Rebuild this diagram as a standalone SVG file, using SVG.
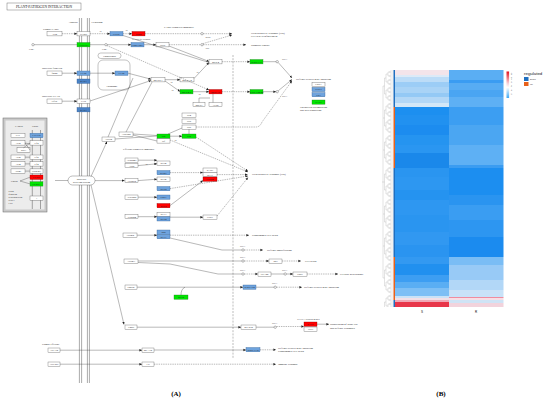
<svg xmlns="http://www.w3.org/2000/svg" width="550" height="403" viewBox="0 0 550 403">
<defs>
<style>
.n{fill:#fff;stroke:#555;stroke-width:0.35}
.bl{fill:#6ea3dd;stroke:#2e5f94;stroke-width:0.35}
.db{fill:#4a82c6;stroke:#2a5690;stroke-width:0.35}
.gr{fill:#00e400;stroke:#2a7a2a;stroke-width:0.35}
.rd{fill:#ff0000;stroke:#8a0000;stroke-width:0.35}
.t{font-family:"Liberation Serif",serif;font-size:2.6px;text-anchor:middle;fill:#222}
.l{font-family:"Liberation Serif",serif;font-size:2.8px;fill:#222}
.s{stroke:#333;stroke-width:0.35;fill:none}
.d{stroke:#333;stroke-width:0.35;fill:none;stroke-dasharray:1.4 0.9}
.c{fill:#fff;stroke:#333;stroke-width:0.35}
.m{stroke:#444;stroke-width:0.45}
.dg{stroke:#a0a0a0;stroke-width:0.3;fill:none}
</style>
<marker id="a" markerWidth="3" markerHeight="4" refX="2.6" refY="2" orient="auto" markerUnits="userSpaceOnUse"><path d="M0,0.8 L2.6,2 L0,3.2z" fill="#222"/></marker>
<pattern id="p2" x="0" y="70" width="4" height="2" patternUnits="userSpaceOnUse"><path d="M0,1H4" class="dg"/></pattern>
<pattern id="p4" x="0" y="70" width="4" height="4" patternUnits="userSpaceOnUse"><path d="M0,2H4" class="dg"/></pattern>
<pattern id="p8" x="0" y="70" width="4" height="8" patternUnits="userSpaceOnUse"><path d="M0,4H4" class="dg"/></pattern>
<pattern id="p16" x="0" y="70" width="4" height="16" patternUnits="userSpaceOnUse"><path d="M0,8H4" class="dg"/></pattern>
<pattern id="p32" x="0" y="70" width="4" height="32" patternUnits="userSpaceOnUse"><path d="M0,16H4" class="dg"/></pattern>
<linearGradient id="lg" x1="0" y1="0" x2="0" y2="1"><stop offset="0" stop-color="#e3121f"/><stop offset="0.45" stop-color="#f7d2da"/><stop offset="0.6" stop-color="#ffffff"/><stop offset="1" stop-color="#3fa9f5"/></linearGradient>
</defs>
<rect width="550" height="403" fill="#fff"/>

<!-- ============ PANEL A ============ -->
<g id="title"><rect x="7" y="3" width="74" height="7" fill="#fff" stroke="#555" stroke-width="0.4"/><text x="44" y="7.8" class="t" style="font-size:3.6px">PLANT-PATHOGEN INTERACTION</text></g>

<g id="membrane">
<line x1="79.4" y1="18" x2="79.4" y2="383" class="m"/><line x1="81.6" y1="18" x2="81.6" y2="383" class="m"/>
<line x1="87.4" y1="18" x2="87.4" y2="383" class="m"/><line x1="89.4" y1="18" x2="89.4" y2="383" class="m"/>
<text x="73" y="23" class="t">Apoplast</text><text x="97" y="23" class="t">Cytoplasm</text>
</g>
<line x1="233" y1="55" x2="233" y2="358" stroke="#555" stroke-width="0.4" stroke-dasharray="2 1.2"/>

<!-- grey PRR box -->
<g id="prrbox">
<rect x="3" y="118" width="44" height="94" fill="#c9c9c9" stroke="#666" stroke-width="0.5"/>
<rect x="5.5" y="120.5" width="39" height="89" fill="#ececec"/>
<line x1="32.3" y1="130" x2="32.3" y2="209" class="m"/><line x1="40.5" y1="130" x2="40.5" y2="209" class="m"/>
<text x="15" y="126.5" class="l" style="font-size:2.6px">PAMPs</text><text x="32" y="126.5" class="l" style="font-size:2.6px">PRRs</text>
<rect x="11" y="133.3" width="14" height="4.4" class="n"/><text x="18" y="136.4" class="t">EIX</text>
<rect x="30" y="133.3" width="13" height="4.4" class="bl"/><text x="36.5" y="136.4" class="t">LeEIX2</text>
<rect x="11" y="140.7" width="14" height="4.4" class="n"/><text x="18" y="143.8" class="t">Avr2</text>
<rect x="30" y="140.7" width="13" height="4.4" class="n"/><text x="36.5" y="143.8" class="t">Cf2</text>
<rect x="17" y="147.8" width="13" height="4.4" class="n"/><text x="23.5" y="150.9" class="t">Rcr3</text>
<path d="M25,143 L30,150 M25,143 L30,144 M23.5,147.8 L30,143" class="s"/>
<rect x="11" y="155" width="14" height="4.4" class="n"/><text x="18" y="158.1" class="t">Avr9</text>
<rect x="30" y="155" width="13" height="4.4" class="n"/><text x="36.5" y="158.1" class="t">Cf9</text>
<rect x="11" y="161.7" width="14" height="4.4" class="n"/><text x="18" y="164.8" class="t">Avr4</text>
<rect x="30" y="161.7" width="13" height="4.4" class="n"/><text x="36.5" y="164.8" class="t">Cf4</text>
<rect x="11" y="168.9" width="14" height="4.4" class="n"/><text x="18" y="172" class="t">Avr4E</text>
<rect x="30" y="168.9" width="13" height="4.4" class="n"/><text x="36.5" y="172" class="t">Hcr9-4E</text>
<path d="M25,157.2 H30 M25,163.9 H30 M25,171.1 H30" class="s"/>
<rect x="30" y="175" width="13" height="4.4" class="rd"/><text x="36.5" y="178.1" class="t">CEBiP</text>
<rect x="30" y="181.7" width="13" height="4.4" class="gr"/><text x="36.5" y="184.8" class="t">CERK1</text>
<text x="11" y="182" class="l" style="font-size:2.6px">Chitin</text>
<path d="M20,181 L30,177.2 M20,181 L30,183.9" class="s"/>
<text x="8.5" y="192" class="l" style="font-size:2.4px">Hep2</text>
<text x="8.5" y="195" class="l" style="font-size:2.4px">β-glucan</text>
<text x="8.5" y="198" class="l" style="font-size:2.4px">Peptidoglycan</text>
<text x="8.5" y="201" class="l" style="font-size:2.4px">Pep13</text>
<text x="8.5" y="204" class="l" style="font-size:2.4px">LPS</text>
<rect x="30" y="196" width="13" height="4.2" class="n"/><text x="36.5" y="199" class="t">?</text>
</g>

<!-- PTI top -->
<g id="fungal_pamp"><text x="43" y="29.5" class="l">Fungal PAMP</text><rect x="47" y="31.5" width="15" height="4.4" class="n"/><text x="54.5" y="34.6" class="t">Avr9</text></g>
<g id="n_cebip"><rect x="77" y="31.5" width="13" height="4.4" class="n"/><text x="83.5" y="34.6" class="t">CEBiP</text></g>
<g id="n_cdpk"><rect x="110" y="31.5" width="13" height="4.4" class="bl"/><text x="116.5" y="34.6" class="t">CDPK</text></g>
<g id="n_rboh"><rect x="132" y="31.5" width="13" height="4.4" class="rd"/><text x="138.5" y="34.6" class="t">Rboh</text></g>
<g id="n_cngc"><rect x="77" y="42.5" width="13" height="4.4" class="gr"/><text x="83.5" y="45.6" class="t">CNGCs</text></g>
<g id="n_cam"><rect x="131" y="42.5" width="13" height="4.4" class="bl"/><text x="137.5" y="45.6" class="t">CaM/CML</text></g>
<g id="n_nos"><rect x="156" y="42.5" width="13" height="4.4" class="n"/><text x="162.5" y="45.6" class="t">NOS</text></g>
<g id="n_flg22"><text x="42" y="68.5" class="l">Bacterial flagellin</text><rect x="47" y="71" width="15" height="4.4" class="n"/><text x="54.5" y="74.1" class="t">flg22</text></g>
<g id="n_fls2m"><rect x="77" y="71" width="13" height="4.4" class="bl"/><text x="83.5" y="74.1" class="t">FLS2</text></g>
<g id="n_bak1a"><rect x="77" y="79" width="13" height="4.4" class="db"/><text x="83.5" y="82.1" class="t">BAK1</text></g>
<g id="n_endo"><rect x="98" y="60" width="32" height="30" rx="5" fill="#fff" stroke="#555" stroke-width="0.35"/><rect x="98" y="53" width="23" height="5.5" rx="2.7" fill="#fff" stroke="#555" stroke-width="0.35"/><text x="109.5" y="56.7" class="t">Endocytosis</text><text x="112" y="86.5" class="t">Endosome</text></g>
<g id="n_fls2e"><rect x="115" y="71" width="13" height="4.4" class="bl"/><text x="121.5" y="74.1" class="t">FLS2</text></g>
<g id="n_elf18"><text x="42" y="96.5" class="l">Bacterial EF-Tu</text><rect x="47" y="99" width="15" height="4.4" class="n"/><text x="54.5" y="102.1" class="t">elf18</text></g>
<g id="n_efr"><rect x="77" y="99" width="13" height="4.4" class="n"/><text x="83.5" y="102.1" class="t">EFR</text></g>
<g id="n_bak1b"><rect x="77" y="107.5" width="13" height="4.4" class="db"/><text x="83.5" y="110.6" class="t">BAK1</text></g>
<g id="n_mekk1"><rect x="151" y="77.5" width="14" height="4.4" class="n"/><text x="158" y="80.6" class="t">MEKK1</text></g>
<g id="n_mkk12"><rect x="180" y="77.5" width="14" height="4.4" class="n"/><text x="187" y="80.6" class="t">MKK1/2</text></g>
<g id="n_mpk4"><rect x="209" y="59.5" width="13" height="4.4" class="n"/><text x="215.5" y="62.6" class="t">MPK4</text></g>
<g id="n_mkk45"><rect x="180" y="89.5" width="13" height="4.4" class="gr"/><text x="186.5" y="92.6" class="t">MKK4/5</text></g>
<g id="n_mpk36"><rect x="209" y="89.5" width="13" height="4.4" class="rd"/><text x="215.5" y="92.6" class="t">MPK3/6</text></g>
<g id="n_mks1"><rect x="193" y="102.5" width="12" height="4.3" class="n"/><text x="199" y="105.6" class="t">MKS1</text></g>
<g id="n_acs6"><rect x="209" y="102.5" width="13" height="4.3" class="n"/><text x="215.5" y="105.6" class="t">ACS6</text></g>
<g id="n_wrky33"><rect x="250" y="59.5" width="13" height="4.4" class="gr"/><text x="256.5" y="62.6" class="t">WRKY33</text></g>
<g id="n_wrky2229"><rect x="250" y="89.5" width="13" height="4.4" class="gr"/><text x="256.5" y="92.6" class="t">WRKY22/29</text></g>
<g id="n_genes"><rect x="312" y="82.2" width="13" height="4.2" class="n"/><text x="318.5" y="85.2" class="t">FRK1</text>
<rect x="312" y="87.4" width="13" height="4.2" class="bl"/><text x="318.5" y="90.4" class="t">NHO1</text>
<rect x="312" y="92.6" width="13" height="4.2" class="bl"/><text x="318.5" y="95.6" class="t">PR1</text>
<rect x="312" y="100" width="13" height="4.2" class="gr"/><text x="318.5" y="103" class="t">PAD3</text></g>
<g id="n_pti"><rect x="182" y="113" width="14" height="4.2" class="n"/><text x="189" y="116" class="t">Pti4</text>
<rect x="182" y="119" width="14" height="4.2" class="n"/><text x="189" y="122" class="t">Pti5</text>
<rect x="182" y="125" width="14" height="4.2" class="n"/><text x="189" y="128" class="t">Pti6</text></g>

<!-- ETI -->
<g id="n_secretion"><rect x="68" y="176" width="27" height="9" rx="4.5" fill="#fff" stroke="#555" stroke-width="0.4"/><text x="81.5" y="180" class="t">Bacterial</text><text x="81.5" y="183.3" class="t">secretion system</text></g>
<g id="n_avrpto"><rect x="102" y="137" width="13" height="4.3" class="n"/><text x="108.5" y="140" class="t">AvrPto</text></g>
<g id="n_avrptob"><rect x="119" y="132" width="14" height="4.3" class="n"/><text x="126" y="135" class="t">AvrPtoB</text></g>
<g id="n_pto"><rect x="157" y="134" width="13" height="4.3" class="gr"/><text x="163.5" y="137" class="t">Pto</text><rect x="157" y="138.8" width="13" height="4.3" class="n"/><text x="163.5" y="141.8" class="t">Prf</text></g>
<g id="n_pto2"><rect x="182" y="134" width="14" height="4.3" class="gr"/><text x="189" y="137" class="t">Pto</text></g>
<text x="123" y="149.5" class="l">Effector triggered immunity</text>
<g id="n_avrrpm1"><rect x="125" y="158" width="13" height="4.3" class="n"/><text x="131.5" y="161" class="t">AvrRpm1</text><rect x="125" y="163.5" width="13" height="4.3" class="n"/><text x="131.5" y="166.5" class="t">AvrB</text></g>
<g id="n_rpm1"><rect x="157" y="161" width="13" height="4.3" class="n"/><text x="163.5" y="164" class="t">RIN4</text><rect x="157" y="170.5" width="13" height="4.3" class="bl"/><text x="163.5" y="173.5" class="t">RPM1</text></g>
<g id="n_avrrpt2"><rect x="125" y="178.5" width="13" height="4.3" class="n"/><text x="131.5" y="181.5" class="t">AvrRpt2</text></g>
<g id="n_rps2"><rect x="157" y="177" width="13" height="4.3" class="n"/><text x="163.5" y="180" class="t">RIN4</text><rect x="157" y="186.5" width="13" height="4.3" class="bl"/><text x="163.5" y="189.5" class="t">RPS2</text></g>
<g id="n_avrpphb"><rect x="125" y="195" width="13" height="4.3" class="n"/><text x="131.5" y="198" class="t">AvrPphB</text></g>
<g id="n_rps5"><rect x="157" y="195" width="13" height="4.3" class="bl"/><text x="163.5" y="198" class="t">PBS1</text><rect x="157" y="203.5" width="13" height="4.3" class="rd"/><text x="163.5" y="206.5" class="t">RPS5</text></g>
<g id="n_avrrps4"><rect x="125" y="214.5" width="13" height="4.3" class="n"/><text x="131.5" y="217.5" class="t">AvrRps4</text></g>
<g id="n_rps4"><rect x="157" y="212.3" width="13" height="4.3" class="n"/><text x="163.5" y="215.3" class="t">SGT1</text><rect x="157" y="216.7" width="13" height="4.3" class="bl"/><text x="163.5" y="219.7" class="t">RPS4</text></g>
<g id="n_eds1"><rect x="203" y="215" width="14" height="4.3" class="n"/><text x="210" y="218" class="t">EDS1</text></g>
<g id="n_rar1"><rect x="203" y="168" width="14" height="4.3" class="n"/><text x="210" y="171" class="t">RAR1</text><rect x="203" y="172.5" width="14" height="4.3" class="n"/><text x="210" y="175.5" class="t">SGT1</text><rect x="203" y="177" width="14" height="4.3" class="rd"/><text x="210" y="180" class="t">HSP90</text></g>
<g id="n_avrbs2"><rect x="123" y="233" width="14" height="4.3" class="n"/><text x="130" y="236" class="t">AvrBs2</text></g>
<g id="n_bs2"><rect x="157" y="230" width="13" height="4.3" class="bl"/><text x="163.5" y="233" class="t">Bs2</text><rect x="157" y="234.5" width="13" height="4.3" class="bl"/><text x="163.5" y="237.5" class="t">SGT1</text></g>

<!-- lower -->
<g id="n_avrbs3"><rect x="124" y="259" width="14" height="4.4" class="n"/><text x="131" y="262.1" class="t">AvrBs3</text></g>
<g id="n_bs3"><rect x="269" y="259" width="13" height="4.3" class="n"/><text x="275.5" y="262" class="t">Bs3</text></g>
<g id="n_upa20"><rect x="258" y="272" width="13" height="4.3" class="n"/><text x="264.5" y="275" class="t">UPA20</text></g>
<g id="n_upa7"><rect x="293" y="272" width="14" height="4.3" class="n"/><text x="300" y="275" class="t">Upa7</text></g>
<g id="n_popp2"><rect x="125" y="285" width="12" height="4.3" class="n"/><text x="131" y="288" class="t">PopP2</text></g>
<g id="n_rd19"><rect x="174" y="295" width="14" height="4.3" class="gr"/><text x="181" y="298" class="t">RD19</text></g>
<g id="n_wrky52"><rect x="243" y="285" width="13" height="4.3" class="bl"/><text x="249.5" y="288" class="t">WRKY52</text></g>
<g id="n_xopd"><rect x="125" y="325" width="12" height="4.3" class="n"/><text x="131" y="328" class="t">XopD</text></g>
<g id="n_myb30"><rect x="241" y="325" width="15" height="4.3" class="n"/><text x="248.5" y="328" class="t">MYB30</text></g>
<g id="n_kcs"><text x="297" y="319.5" class="l" style="font-size:2.6px">VLCFA related genes</text><rect x="304" y="322" width="13" height="4.3" class="rd"/><text x="310.5" y="325" class="t">KCS1</text><rect x="304" y="327" width="13" height="4.3" class="n"/><text x="310.5" y="330" class="t">FDH</text></g>
<g id="n_avra10"><text x="42" y="344.5" class="l">Fungal effector</text><rect x="48" y="348" width="12" height="4.3" class="n"/><text x="54" y="351" class="t">AvrA10</text></g>
<g id="n_mla10"><rect x="142" y="348" width="12" height="4.3" class="n"/><text x="148" y="351" class="t">MLA10</text></g>
<g id="n_wrky12"><rect x="246" y="347.5" width="14" height="4.3" class="bl"/><text x="253" y="350.5" class="t">WRKY1/2</text></g>
<g id="n_avrl567"><rect x="48" y="362" width="12" height="4.3" class="n"/><text x="54" y="365" class="t">AvrL567</text></g>
<g id="n_l6"><rect x="142" y="362" width="12" height="4.3" class="n"/><text x="148" y="365" class="t">L6</text></g>

<!-- outcome labels -->
<g id="labels">
<text x="164" y="27.5" class="l">PAMP-triggered immunity</text>
<text x="132" y="39.5" class="l" style="font-size:2.5px">NAD(P)H oxidase</text>
<text x="251" y="33.5" class="l">Hypersensitive response (HR)</text>
<text x="251" y="37" class="l">Cell wall reinforcement</text>
<text x="251" y="46" class="l">Stomatal closure</text>
<text x="205.5" y="37.5" class="l" style="font-size:2.5px">ROS</text>
<text x="205.5" y="48.5" class="l" style="font-size:2.5px">NO</text>
<text x="29" y="50" class="l" style="font-size:2.5px">Ca2+</text>
<text x="102" y="50" class="l" style="font-size:2.5px">Ca2+</text>
<text x="99" y="31.5" class="l" style="font-size:2.4px">+p</text>
<text x="125" y="31" class="l" style="font-size:2.4px">+p</text>
<text x="170" y="82.5" class="l" style="font-size:2.4px">+p</text>
<text x="171" y="90.5" class="l" style="font-size:2.4px">+p</text>
<text x="198" y="94.5" class="l" style="font-size:2.4px">+p</text>
<text x="196" y="73" class="l" style="font-size:2.4px">+p</text>
<text x="174" y="140.5" class="l" style="font-size:2.4px">+p</text>
<text x="145" y="164.5" class="l" style="font-size:2.4px">+p</text>
<text x="282" y="59.5" class="l" style="font-size:2.5px">DNA</text>
<text x="282" y="96.5" class="l" style="font-size:2.5px">DNA</text>
<text x="296" y="79.8" class="l">Defense-related gene induction</text>
<text x="300" y="107.5" class="l" style="font-size:2.6px">Phytoalexin accumulation</text>
<text x="300" y="110.8" class="l" style="font-size:2.6px">and ROS production</text>
<text x="252" y="175" class="l">Hypersensitive response (HR)</text>
<text x="252" y="236.2" class="l">Programmed cell death</text>
<text x="240" y="247" class="l" style="font-size:2.5px">DNA</text>
<text x="267" y="251.2" class="l">Defense amplification</text>
<text x="240" y="258" class="l" style="font-size:2.5px">DNA</text>
<text x="305" y="262.2" class="l">Cell death</text>
<text x="240" y="271" class="l" style="font-size:2.5px">DNA</text>
<text x="282" y="271" class="l" style="font-size:2.5px">DNA</text>
<text x="340" y="275.2" class="l">Cellular hypertrophy</text>
<text x="272" y="284" class="l" style="font-size:2.5px">DNA</text>
<text x="304" y="288.2" class="l">Defense-related gene induction</text>
<text x="272" y="324" class="l" style="font-size:2.5px">DNA</text>
<text x="330" y="325.2" class="l">Suppression of plant HR</text>
<text x="330" y="328.6" class="l">and defense responses</text>
<text x="278" y="348.6" class="l">Defense-related gene induction</text>
<text x="278" y="352" class="l">Programmed cell death</text>
<text x="278" y="365" class="l">Immune response</text>
</g>

<g id="connectors">
<path d="M62,33.7 H77" class="d" marker-end="url(#a)"/>
<path d="M90,33.7 H110" class="d" marker-end="url(#a)"/>
<path d="M123,33.7 H132" class="d" marker-end="url(#a)"/>
<path d="M145,33.7 H200.8" class="d"/>
<circle cx="202" cy="33.7" r="1.2" class="c"/>
<path d="M203.2,33.7 H232" class="d" marker-end="url(#a)"/>
<circle cx="33" cy="44.7" r="1.2" class="c"/>
<path d="M34.2,44.7 H77" class="s"/>
<path d="M90,44.7 H104.8" class="s"/>
<circle cx="106" cy="44.7" r="1.2" class="c"/>
<path d="M107.2,44.7 H131" class="s" marker-end="url(#a)"/>
<path d="M144,44.7 H156" class="s" marker-end="url(#a)"/>
<path d="M169,44.7 H200.8" class="d"/>
<circle cx="202" cy="44.7" r="1.2" class="c"/>
<path d="M203.2,44.7 H246" class="d" marker-end="url(#a)"/>
<path d="M203,43.6 L232,35" class="d" marker-end="url(#a)"/>
<path d="M107,45.6 L209,90" class="d" marker-end="url(#a)"/>
<path d="M169,46 L209,61.5" class="s" marker-end="url(#a)"/>
<path d="M123,35.5 L209,62.5" class="s"/>
<path d="M62,73.2 H77" class="s" marker-end="url(#a)"/>
<path d="M90,73.2 H115" class="s" marker-end="url(#a)"/>
<path d="M128,73.2 L151,79.2" class="s" marker-end="url(#a)"/>
<path d="M62,101.2 H77" class="s" marker-end="url(#a)"/>
<path d="M90,101 L151,80.5" class="s" marker-end="url(#a)"/>
<path d="M165,79.7 H180" class="s" marker-end="url(#a)"/>
<path d="M194,78.5 L209,62.5" class="s" marker-end="url(#a)"/>
<path d="M165,81 L180,91.5" class="s" marker-end="url(#a)"/>
<path d="M193,91.7 H209" class="s" marker-end="url(#a)"/>
<path d="M213,93.9 V102.5 M199,102.5 V98 H210" class="s"/>
<path d="M222,61.7 H250" class="d" marker-end="url(#a)"/>
<path d="M222,91.7 H250" class="d" marker-end="url(#a)"/>
<path d="M263,61.7 H276" class="s"/>
<circle cx="277.2" cy="61.7" r="1.2" class="c"/>
<path d="M278.2,62.5 L292,78" class="s" marker-end="url(#a)"/>
<path d="M263,91.7 H276" class="s" marker-end="url(#a)"/>
<circle cx="277.2" cy="91.7" r="1.2" class="c"/>
<path d="M278.2,90.8 L292,79.5" class="s" marker-end="url(#a)"/>
<path d="M196,127 H256 Q260,127 262,122 L292,80.8" class="d" marker-end="url(#a)"/>
<path d="M108,137 L133,78 M126,132 L152,82.2" class="s"/>
<path d="M55,180.5 H68" class="s"/>
<path d="M95,180.6 H124.6" class="s" marker-end="url(#a)"/>
<path d="M91,176.5 L107,141.6" class="s" marker-end="url(#a)"/>
<path d="M91,185 L124,324.5" class="s" marker-end="url(#a)"/>
<path d="M115,139 L157,136 M133,134 L157,135.5 M133,135 L157,141" class="s"/>
<path d="M189,134 V129.3 M168,134 L182,128" class="s"/>
<path d="M170,136.2 H182" class="s" marker-end="url(#a)"/>
<path d="M196,137 L248,171.2" class="d" marker-end="url(#a)"/>
<path d="M170,140 L248,172" class="d" marker-end="url(#a)"/>
<path d="M138,160.2 H157" class="s" marker-end="url(#a)"/>
<path d="M138,165.6 L157,163.8" class="s" marker-end="url(#a)"/>
<path d="M170,172.6 H203" class="d" marker-end="url(#a)"/>
<path d="M138,180.6 L157,179.2" class="s" marker-end="url(#a)"/>
<path d="M170,188.6 L248,176" class="d" marker-end="url(#a)"/>
<path d="M138,197.2 H157" class="s" marker-end="url(#a)"/>
<path d="M170,205.6 L203,180.5" class="s" marker-end="url(#a)"/>
<path d="M217,174.6 H247.6" class="d" marker-end="url(#a)"/>
<path d="M138,216.7 H157" class="s" marker-end="url(#a)"/>
<path d="M170,217.2 H203" class="s" marker-end="url(#a)"/>
<path d="M217,216 L248,177.5" class="d" marker-end="url(#a)"/>
<path d="M137,235.2 H157" class="s" marker-end="url(#a)"/>
<path d="M170,235.2 H249" class="d" marker-end="url(#a)"/>
<path d="M170,238 L222,250 H241.8" class="s"/>
<circle cx="243" cy="250" r="1.2" class="c"/>
<path d="M244.2,250 H263" class="d" marker-end="url(#a)"/>
<path d="M138,261 H241.8" class="s"/>
<circle cx="243" cy="261" r="1.2" class="c"/>
<path d="M244.2,261 H269" class="d" marker-end="url(#a)"/>
<path d="M282,261 H301" class="d" marker-end="url(#a)"/>
<path d="M138,262.5 L170,264 L218,274 H241.8" class="s"/>
<circle cx="243" cy="274" r="1.2" class="c"/>
<path d="M244.2,274 H258" class="d" marker-end="url(#a)"/>
<path d="M271,274 H284" class="s"/>
<circle cx="285.2" cy="274" r="1.2" class="c"/>
<path d="M286.4,274 H293" class="s" marker-end="url(#a)"/>
<path d="M307,274 H338" class="d" marker-end="url(#a)"/>
<path d="M137,287.2 H243" class="s" marker-end="url(#a)"/>
<path d="M181,295 Q181,289 185,287.2" class="s"/>
<path d="M256,287.2 H274" class="s"/>
<circle cx="275.2" cy="287.2" r="1.2" class="c"/>
<path d="M276.4,287.2 H302" class="d" marker-end="url(#a)"/>
<path d="M137,327.2 H241" class="s" marker-end="url(#a)"/>
<path d="M256,327.2 H274" class="s"/>
<circle cx="275.2" cy="327.2" r="1.2" class="c"/>
<path d="M276.4,326.5 H304" class="d" marker-end="url(#a)"/>
<path d="M317,324.2 H329" class="s" marker-end="url(#a)"/>
<path d="M60,350.2 H142" class="s" marker-end="url(#a)"/>
<path d="M154,350 H246" class="s" marker-end="url(#a)"/>
<path d="M260,349.8 H276" class="d" marker-end="url(#a)"/>
<path d="M60,364.2 H142" class="s" marker-end="url(#a)"/>
<path d="M154,364.2 H276" class="d" marker-end="url(#a)"/>
</g>

<text x="176" y="396" style="font-family:'Liberation Serif',serif;font-size:7px;font-weight:bold" text-anchor="middle">(A)</text>

<!-- ============ PANEL B ============ -->
<g id="dendrogram">
<rect x="390" y="70" width="3.5" height="237" fill="url(#p2)"/>
<line x1="390" y1="71" x2="390" y2="307" class="dg" stroke-dasharray="2 2"/>
<rect x="388" y="70" width="2" height="237" fill="url(#p4)"/>
<line x1="388" y1="72" x2="388" y2="307" class="dg" stroke-dasharray="4 4"/>
<rect x="386" y="70" width="2" height="237" fill="url(#p8)"/>
<line x1="386" y1="74" x2="386" y2="307" class="dg" stroke-dasharray="8 8"/>
<rect x="384.5" y="70" width="1.5" height="237" fill="url(#p16)"/>
<line x1="384.5" y1="78" x2="384.5" y2="307" class="dg" stroke-dasharray="16 16"/>
<rect x="383" y="70" width="1.5" height="237" fill="url(#p32)"/>
<line x1="383" y1="86" x2="383" y2="278" class="dg"/>
<line x1="382" y1="182" x2="383" y2="182" class="dg"/>
</g>

<g id="sidebar">
<rect x="393.5" y="70" width="1.6" height="37" fill="#1f6fc0"/>
<rect x="393.5" y="107" width="1.6" height="61" fill="#e8611a"/>
<rect x="393.5" y="168" width="1.6" height="89" fill="#1f6fc0"/>
<rect x="393.5" y="257" width="1.6" height="43" fill="#e8611a"/>
<rect x="393.5" y="300" width="1.6" height="7" fill="#1f6fc0"/>
</g>

<g id="heat_S">
<rect x="395" y="70" width="54" height="5" fill="#f3e4ea"/>
<rect x="395" y="75" width="54" height="2" fill="#dceaf7"/>
<rect x="395" y="77" width="54" height="5" fill="#bcdcf7"/>
<rect x="395" y="82" width="54" height="5" fill="#9ccdf6"/>
<rect x="395" y="87" width="54" height="6" fill="#a9d3f6"/>
<rect x="395" y="93" width="54" height="4" fill="#94c9f5"/>
<rect x="395" y="97" width="54" height="6" fill="#b3d7f6"/>
<rect x="395" y="103" width="54" height="4" fill="#d3e7f7"/>
<rect x="395" y="107" width="54" height="8" fill="#1c8ff0"/>
<rect x="395" y="115" width="54" height="10" fill="#2191f0"/>
<rect x="395" y="125" width="54" height="10" fill="#1c8cef"/>
<rect x="395" y="135" width="54" height="10" fill="#2594f0"/>
<rect x="395" y="145" width="54" height="8" fill="#2a96f1"/>
<rect x="395" y="153" width="54" height="15" fill="#1a88ea"/>
<rect x="395" y="168" width="54" height="9" fill="#2a95f0"/>
<rect x="395" y="177" width="54" height="13" fill="#2d97f1"/>
<rect x="395" y="190" width="54" height="10" fill="#2593f0"/>
<rect x="395" y="200" width="54" height="15" fill="#2e97f1"/>
<rect x="395" y="215" width="54" height="17" fill="#2a95f0"/>
<rect x="395" y="232" width="54" height="13" fill="#3198f1"/>
<rect x="395" y="245" width="54" height="12" fill="#2a94f0"/>
<rect x="395" y="257" width="54" height="7" fill="#3399f1"/>
<rect x="395" y="264" width="54" height="11" fill="#2190ef"/>
<rect x="395" y="275" width="54" height="7" fill="#3d9ef2"/>
<rect x="395" y="282" width="54" height="6" fill="#5aaef3"/>
<rect x="395" y="288" width="54" height="8" fill="#7dbff5"/>
<rect x="395" y="296" width="54" height="2" fill="#c9e2f7"/>
<rect x="395" y="298" width="54" height="2" fill="#f2dfe6"/>
<rect x="395" y="300" width="54" height="2" fill="#f0a8b6"/>
<rect x="395" y="302" width="54" height="5" fill="#e8364a"/>
</g>
<g id="heat_R">
<rect x="449" y="70" width="54.5" height="10" fill="#5aaef3"/>
<rect x="449" y="80" width="54.5" height="3" fill="#3a9cf2"/>
<rect x="449" y="83" width="54.5" height="7" fill="#57acf3"/>
<rect x="449" y="90" width="54.5" height="7" fill="#4aa5f2"/>
<rect x="449" y="97" width="54.5" height="10" fill="#5eb0f4"/>
<rect x="449" y="107" width="54.5" height="18" fill="#3c9ef2"/>
<rect x="449" y="125" width="54.5" height="20" fill="#4ba6f2"/>
<rect x="449" y="145" width="54.5" height="20" fill="#5eb0f4"/>
<rect x="449" y="165" width="54.5" height="3" fill="#3a9cf1"/>
<rect x="449" y="168" width="54.5" height="27" fill="#1c8ef0"/>
<rect x="449" y="195" width="54.5" height="10" fill="#2a94f0"/>
<rect x="449" y="205" width="54.5" height="15" fill="#3a9df2"/>
<rect x="449" y="220" width="54.5" height="17" fill="#2d96f1"/>
<rect x="449" y="237" width="54.5" height="20" fill="#1b8bef"/>
<rect x="449" y="257" width="54.5" height="8" fill="#7abdf5"/>
<rect x="449" y="265" width="54.5" height="15" fill="#98caf6"/>
<rect x="449" y="280" width="54.5" height="10" fill="#b2d7f7"/>
<rect x="449" y="290" width="54.5" height="7" fill="#c8e2f8"/>
<rect x="449" y="297" width="54.5" height="1" fill="#ef8c9f"/>
<rect x="449" y="298" width="54.5" height="2" fill="#f6dee5"/>
<rect x="449" y="300" width="54.5" height="3" fill="#cfe3f5"/>
<rect x="449" y="303" width="54.5" height="4" fill="#f2d3dc"/>
</g>
<g id="col_labels">
<text x="422" y="313" style="font-family:'Liberation Sans',sans-serif;font-size:3px" text-anchor="middle">S</text>
<text x="476" y="313" style="font-family:'Liberation Sans',sans-serif;font-size:3px" text-anchor="middle">R</text>
</g>
<g id="legend">
<rect x="506.5" y="71.5" width="2.6" height="26.5" fill="url(#lg)"/>
<g style="font-family:'Liberation Sans',sans-serif;font-size:2.2px" fill="#333">
<text transform="translate(510.5,72.5) rotate(90)">12</text>
<text transform="translate(510.5,77) rotate(90)">10</text>
<text transform="translate(510.5,81.5) rotate(90)">8</text>
<text transform="translate(510.5,85.5) rotate(90)">6</text>
<text transform="translate(510.5,89.5) rotate(90)">4</text>
<text transform="translate(510.5,93.5) rotate(90)">2</text>
</g>
<text x="524" y="75" style="font-family:'Liberation Sans',sans-serif;font-size:4.4px" fill="#222">regulated</text>
<rect x="524" y="77" width="4.5" height="4" fill="#1f6fc0"/>
<rect x="524" y="82" width="4.5" height="4" fill="#e8611a"/>
<text x="530" y="80" style="font-family:'Liberation Sans',sans-serif;font-size:2.2px" fill="#333">Down</text>
<text x="530" y="85" style="font-family:'Liberation Sans',sans-serif;font-size:2.2px" fill="#333">Up</text>
</g>
<text x="441" y="396" style="font-family:'Liberation Serif',serif;font-size:7px;font-weight:bold" text-anchor="middle">(B)</text>
</svg>
